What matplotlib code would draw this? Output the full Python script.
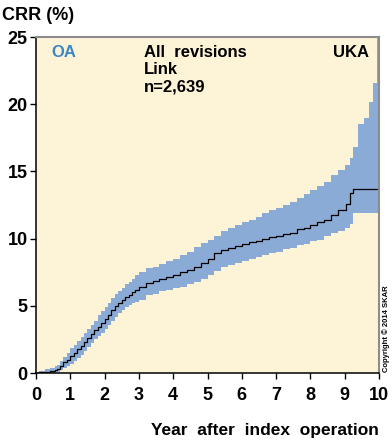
import matplotlib
matplotlib.use("Agg")
import matplotlib.pyplot as plt

plt.rcParams['font.family'] = ['Liberation Sans', 'DejaVu Sans']

# Cumulative revision rate (%) over time, Kaplan-Meier style steps
years = [0.0, 0.1, 0.25, 0.4, 0.55, 0.62, 0.7, 0.8, 0.9, 1.0, 1.1, 1.2, 1.3, 1.4,
         1.5, 1.6, 1.7, 1.8, 1.9, 2.0, 2.1, 2.2, 2.3, 2.4, 2.5, 2.6, 2.7, 2.8,
         2.9, 3.0, 3.2, 3.4, 3.6, 3.8, 4.0, 4.2, 4.4, 4.6, 4.8, 5.0, 5.2, 5.4,
         5.6, 5.8, 6.0, 6.2, 6.4, 6.6, 6.8, 7.0, 7.2, 7.4, 7.6, 7.8, 8.0, 8.2,
         8.4, 8.6, 8.8, 9.0, 9.05, 9.15, 9.25, 9.4, 9.55, 9.7, 9.82, 9.94, 10.0]
crr = [0.0, 0.05, 0.1, 0.15, 0.2, 0.3, 0.55, 0.8, 1.0, 1.25, 1.5, 1.75, 2.0, 2.3,
       2.6, 2.9, 3.2, 3.45, 3.75, 4.05, 4.35, 4.7, 5.0, 5.2, 5.4, 5.65, 5.8, 6.0,
       6.2, 6.4, 6.7, 6.85, 7.0, 7.15, 7.3, 7.5, 7.7, 7.9, 8.2, 8.5, 8.9, 9.15,
       9.3, 9.45, 9.6, 9.75, 9.8, 10.0, 10.15, 10.2, 10.35, 10.4, 10.7, 10.8, 11.0, 11.2,
       11.4, 11.75, 12.1, 12.1, 12.6, 13.4, 13.7, 13.7, 13.7, 13.7, 13.7, 13.7, 13.7]
ci_upper = [0.1, 0.15, 0.3, 0.4, 0.5, 0.6, 0.9, 1.2, 1.5, 1.85, 2.1, 2.4, 2.7, 3.0,
            3.3, 3.6, 3.9, 4.3, 4.6, 4.9, 5.2, 5.6, 5.9, 6.1, 6.3, 6.6, 6.8, 7.0,
            7.3, 7.5, 7.8, 7.9, 8.1, 8.3, 8.5, 8.8, 9.0, 9.4, 9.7, 9.9, 10.2, 10.6,
            10.8, 11.0, 11.2, 11.4, 11.6, 11.9, 12.1, 12.3, 12.5, 12.7, 13.0, 13.3, 13.6, 13.9,
            14.2, 14.7, 15.1, 15.5, 15.5, 16.0, 16.8, 18.5, 19.0, 20.2, 21.6, 25.0, 25.0]
ci_lower = [0.0, 0.0, 0.0, 0.02, 0.05, 0.1, 0.2, 0.35, 0.5, 0.7, 0.9, 1.1, 1.35, 1.65,
            1.95, 2.2, 2.5, 2.75, 3.0, 3.3, 3.6, 3.9, 4.2, 4.45, 4.7, 4.9, 5.05, 5.2,
            5.3, 5.45, 5.8, 5.9, 6.1, 6.2, 6.3, 6.4, 6.6, 6.8, 7.0, 7.3, 7.6, 7.9,
            8.0, 8.2, 8.3, 8.45, 8.6, 8.8, 8.9, 9.0, 9.2, 9.3, 9.5, 9.6, 9.8, 9.9,
            10.2, 10.4, 10.6, 10.8, 10.8, 11.1, 11.9, 11.9, 11.9, 11.9, 11.9, 11.9, 11.9]

x_ticks = [0, 1, 2, 3, 4, 5, 6, 7, 8, 9, 10]
y_ticks = [0, 5, 10, 15, 20, 25]

bg = '#fdf3d7'
band = '#8aabd6'

W, H = 392, 448
fig = plt.figure(figsize=(W / 100, H / 100), dpi=100)
ax = fig.add_axes([36 / W, (H - 373) / H, 343 / W, 336 / H])
ax.set_facecolor(bg)

ax.fill_between(years, ci_lower, ci_upper, step='post', color=band, linewidth=0)
ax.step(years, crr, where='post', color='black', linewidth=0.9)

ax.set_xlim(0, 10)
ax.set_ylim(0, 25)
ax.set_xticks(x_ticks)
ax.set_yticks(y_ticks)
ax.tick_params(axis='both', direction='out', length=4, width=1, labelsize=13,
               pad=2)
ax.tick_params(axis='x', pad=6)
for lab in ax.get_xticklabels() + ax.get_yticklabels():
    lab.set_fontweight('bold')

for side in ('left', 'bottom'):
    ax.spines[side].set_color('black')
    ax.spines[side].set_linewidth(1.1)
for side in ('top', 'right'):
    ax.spines[side].set_color('#8c8c8c')
    ax.spines[side].set_linewidth(1.5)

fig.text(2 / W, 1 - 15 / H, 'CRR (%)', fontsize=13, fontweight='bold',
         va='center', ha='left')
ax.text(0.045, 0.975, 'OA', transform=ax.transAxes, fontsize=12,
        fontweight='bold', color='#3d86c6', va='top', ha='left')
ax.text(0.315, 0.975, 'All  revisions\nLink\nn=2,639', transform=ax.transAxes,
        fontsize=12, fontweight='bold', va='top', ha='left', linespacing=1.15)
ax.text(0.97, 0.975, 'UKA', transform=ax.transAxes, fontsize=12,
        fontweight='bold', va='top', ha='right')
fig.text(379 / W, 1 - 430 / H, 'Year  after  index  operation',
         fontsize=12.5, fontweight='bold', ha='right', va='center')
fig.text(386 / W, 1 - 372 / H, 'Copyright © 2014 SKAR', fontsize=5.5,
         fontweight='bold', rotation=90, ha='center', va='bottom')

fig.savefig('out.png', dpi=100, facecolor='white')
